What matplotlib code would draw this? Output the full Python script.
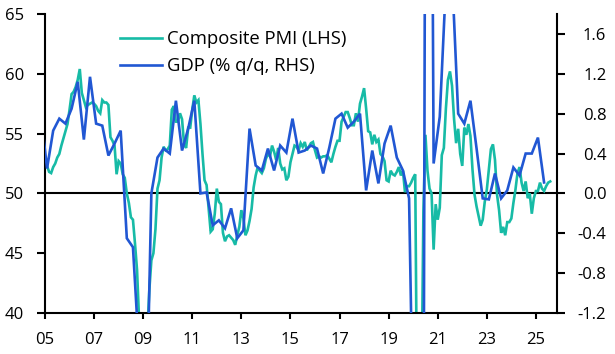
import matplotlib
matplotlib.use("Agg")
import matplotlib.pyplot as plt
import numpy as np

plt.rcParams['font.family'] = ['Open Sans', 'DejaVu Sans']

# Composite PMI, monthly, Jan 2005 - Aug 2025
pmi_2005 = [53.0, 52.3, 51.8, 51.7, 52.2, 52.5, 53.0, 53.3, 54.0, 54.6, 55.2, 55.8]
pmi_2006 = [57.0, 58.3, 58.5, 58.9, 59.5, 60.4, 58.4, 57.8, 57.2, 57.4, 57.5, 57.6]
pmi_2007 = [57.5, 57.3, 56.9, 56.7, 57.8, 57.6, 57.6, 57.4, 54.7, 54.4, 54.0, 51.6]
pmi_2008 = [52.7, 52.5, 51.6, 51.3, 50.0, 49.2, 48.0, 47.8, 45.8, 43.6, 39.4, 38.2]
pmi_2009 = [38.4, 36.2, 38.3, 41.9, 44.4, 45.0, 47.0, 50.4, 51.1, 53.0, 53.9, 53.6]
pmi_2010 = [53.7, 54.0, 57.0, 57.3, 56.0, 56.0, 56.7, 56.2, 54.1, 53.8, 55.5, 55.5]
pmi_2011 = [57.0, 58.2, 57.6, 57.8, 55.8, 53.3, 51.1, 50.7, 48.8, 46.8, 47.0, 48.3]
pmi_2012 = [50.4, 49.3, 49.1, 46.7, 46.0, 46.4, 46.5, 46.3, 46.1, 45.7, 46.5, 47.2]
pmi_2013 = [48.6, 47.9, 46.5, 46.9, 47.7, 48.7, 50.5, 51.5, 52.2, 51.9, 51.7, 52.1]
pmi_2014 = [52.9, 53.3, 53.1, 54.0, 53.5, 52.8, 53.8, 52.5, 52.0, 52.1, 51.1, 51.4]
pmi_2015 = [52.6, 53.3, 54.0, 53.9, 53.6, 54.2, 53.9, 54.3, 53.6, 53.9, 54.2, 54.3]
pmi_2016 = [53.6, 53.0, 53.1, 53.0, 53.1, 53.1, 53.2, 52.9, 52.6, 53.3, 53.9, 54.4]
pmi_2017 = [54.4, 56.0, 56.4, 56.8, 56.8, 56.3, 55.7, 55.7, 56.7, 56.0, 57.5, 58.1]
pmi_2018 = [58.8, 57.1, 55.2, 55.1, 54.1, 54.9, 54.3, 54.5, 53.3, 53.1, 52.7, 51.1]
pmi_2019 = [51.0, 51.9, 51.6, 51.5, 51.8, 52.2, 51.5, 51.9, 50.1, 50.6, 50.6, 50.9]
pmi_2020 = [51.3, 51.6, 29.7, 13.6, 31.9, 48.5, 54.9, 51.9, 50.4, 50.0, 45.3, 49.1]
pmi_2021 = [47.8, 48.8, 53.2, 53.8, 57.1, 59.5, 60.2, 59.0, 56.2, 54.2, 55.4, 53.3]
pmi_2022 = [52.3, 55.5, 54.9, 55.8, 54.8, 52.0, 49.9, 48.9, 48.1, 47.3, 47.8, 49.3]
pmi_2023 = [50.3, 52.0, 53.7, 54.1, 52.8, 49.9, 48.6, 46.7, 47.2, 46.5, 47.6, 47.6]
pmi_2024 = [47.9, 49.2, 50.3, 51.7, 52.2, 50.9, 50.2, 51.0, 49.6, 50.0, 48.3, 49.6]
pmi_2025 = [50.2, 50.2, 50.9, 50.4, 50.2, 50.6, 50.9, 51.0]

# GDP % q/q, quarterly, Q4 2004 - Q2 2025
gdp_2004 = [0.8]
gdp_2005 = [0.25, 0.63, 0.75, 0.70]
gdp_2006 = [0.85, 1.12, 0.54, 1.17]
gdp_2007 = [0.70, 0.68, 0.38, 0.50]
gdp_2008 = [0.63, -0.45, -0.54, -1.60]
gdp_2009 = [-2.90, 0.00, 0.36, 0.45]
gdp_2010 = [0.40, 0.93, 0.43, 0.65]
gdp_2011 = [0.93, 0.00, 0.01, -0.32]
gdp_2012 = [-0.27, -0.35, -0.15, -0.45]
gdp_2013 = [-0.37, 0.65, 0.28, 0.23]
gdp_2014 = [0.45, 0.23, 0.48, 0.41]
gdp_2015 = [0.75, 0.41, 0.43, 0.48]
gdp_2016 = [0.45, 0.20, 0.46, 0.75]
gdp_2017 = [0.80, 0.66, 0.72, 0.80]
gdp_2018 = [0.03, 0.43, 0.10, 0.50]
gdp_2019 = [0.68, 0.36, 0.23, -0.05]
gdp_2020 = [-3.60, -11.30, 12.40, 0.30]
gdp_2021 = [0.77, 2.10, 2.20, 0.80]
gdp_2022 = [0.70, 0.93, 0.45, -0.05]
gdp_2023 = [-0.06, 0.20, -0.05, 0.03]
gdp_2024 = [0.26, 0.18, 0.40, 0.40]
gdp_2025 = [0.56, 0.11]

x_ticks = [2005, 2007, 2009, 2011, 2013, 2015, 2017, 2019, 2021, 2023, 2025]
x_labels = ["05", "07", "09", "11", "13", "15", "17", "19", "21", "23", "25"]
left_ticks = [40, 45, 50, 55, 60, 65]
right_ticks = [-1.2, -0.8, -0.4, 0.0, 0.4, 0.8, 1.2, 1.6]

pmi = (pmi_2005 + pmi_2006 + pmi_2007 + pmi_2008 + pmi_2009 + pmi_2010 + pmi_2011
       + pmi_2012 + pmi_2013 + pmi_2014 + pmi_2015 + pmi_2016 + pmi_2017 + pmi_2018
       + pmi_2019 + pmi_2020 + pmi_2021 + pmi_2022 + pmi_2023 + pmi_2024 + pmi_2025)
gdp = (gdp_2004 + gdp_2005 + gdp_2006 + gdp_2007 + gdp_2008 + gdp_2009 + gdp_2010
       + gdp_2011 + gdp_2012 + gdp_2013 + gdp_2014 + gdp_2015 + gdp_2016 + gdp_2017
       + gdp_2018 + gdp_2019 + gdp_2020 + gdp_2021 + gdp_2022 + gdp_2023 + gdp_2024
       + gdp_2025)

pmi_x = 2005 + np.arange(len(pmi)) / 12.0
# quarterly values placed at the middle month of each quarter, first is Q4 2004
gdp_x = 2005 + (np.arange(len(gdp)) - 1) * 0.25 + 1 / 12.0

TEAL = '#17BBA6'
BLUE = '#2157D3'

fig = plt.figure(figsize=(6.15, 3.54), dpi=100)
ax = fig.add_axes([45 / 615, 1 - 313 / 354, 512 / 615, 299 / 354])
ax2 = ax.twinx()

l1, = ax.plot(pmi_x, pmi, color=TEAL, lw=1.9, solid_joinstyle='miter')
ax.axhline(50, color='black', lw=1.5, zorder=1)
l2, = ax2.plot(gdp_x, gdp, color=BLUE, lw=1.9, solid_joinstyle='miter')

ax.set_xlim(2005.0, 2025.86)
ax.set_ylim(40, 65)
ax2.set_ylim(-1.2, 1.8)

ax.set_xticks(x_ticks)
ax.set_xticklabels(x_labels)
ax.set_yticks(left_ticks)
ax.set_yticklabels([str(v) for v in left_ticks])
ax2.set_yticks(right_ticks)
ax2.set_yticklabels([f"{v:.1f}" for v in right_ticks], ha='right')

for a in (ax, ax2):
    a.spines['top'].set_visible(False)
    for s in ('left', 'right', 'bottom'):
        a.spines[s].set_linewidth(1.5)
    a.tick_params(direction='out', width=1.5, labelsize=12, colors='black')
ax.spines['right'].set_visible(False)
ax2.spines['left'].set_visible(False)
ax2.spines['bottom'].set_visible(False)
ax.tick_params(axis='x', length=4, pad=10)
ax.tick_params(axis='y', length=6, pad=9)
ax2.tick_params(axis='y', length=6, pad=29.5)

leg = ax2.legend([l1, l2], ["Composite PMI (LHS)", "GDP (% q/q, RHS)"],
                 loc='upper left', bbox_to_anchor=(0.1465, 0.945), frameon=False,
                 fontsize=13.3, borderpad=0, borderaxespad=0, handlelength=2.27,
                 handletextpad=0.27, labelspacing=0.49)

fig.savefig('out.png', dpi=100)
